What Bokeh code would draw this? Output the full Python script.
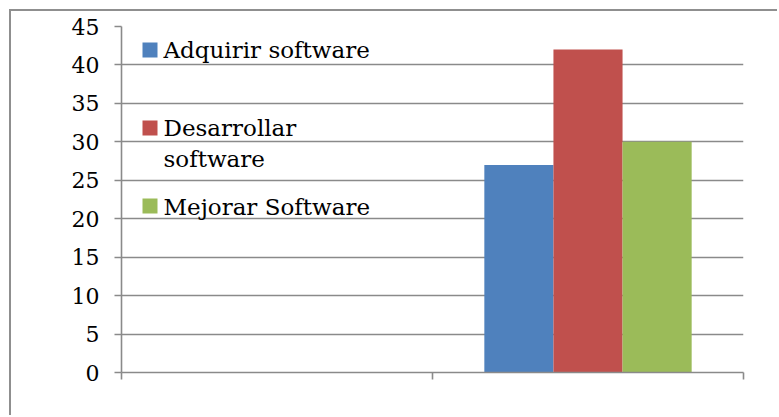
from bokeh.plotting import figure
from bokeh.models import FixedTicker, Range1d
from bokeh.core.properties import value
from bokeh.embed import file_html
from bokeh.resources import INLINE

# ---- data ----
categories = ["", ""]            # category labels (blank in the chart)
series_names = ["Adquirir software", "Desarrollar software", "Mejorar Software"]
adquirir = [0, 27]
desarrollar = [0, 42]
mejorar = [0, 30]
y_ticks = [0, 5, 10, 15, 20, 25, 30, 35, 40, 45]
colors = ["#4F81BD", "#C0504D", "#9BBB59"]

series = [adquirir, desarrollar, mejorar]

FONT = "DejaVu Serif"
GRID = "#8a8a8a"

W, H = 768, 406
p = figure(width=W, height=H, output_backend="svg", toolbar_location=None,
           title=None, x_range=Range1d(0, len(categories)), y_range=Range1d(0, 45),
           min_border_left=110, min_border_right=36, min_border_top=15,
           min_border_bottom=45)
p.styles = {"border-left": "2px solid #8f8f8f", "border-top": "2px solid #8f8f8f",
            "margin-left": "9px", "margin-top": "9px"}
p.outline_line_color = None
p.background_fill_color = "white"
p.border_fill_color = "white"

# bars
n = len(series)
bw = 1.0 / (n + 1.5)
for si, (vals, col) in enumerate(zip(series, colors)):
    xs = [ci + 0.5 + (si - (n - 1) / 2) * bw for ci in range(len(categories))]
    p.vbar(x=xs, top=vals, bottom=0, width=bw, fill_color=col, line_color=None)

# axes
p.xgrid.visible = False
p.ygrid.grid_line_color = GRID
p.ygrid.grid_line_width = 1.6
p.yaxis.ticker = FixedTicker(ticks=y_ticks)
x_ticks = list(range(len(categories) + 1))
p.xaxis.ticker = FixedTicker(ticks=x_ticks)
p.xaxis.major_label_overrides = {t: "" for t in x_ticks}
for ax in (p.xaxis, p.yaxis):
    ax.axis_line_color = GRID
    ax.axis_line_width = 1.6
    ax.major_tick_line_color = GRID
    ax.major_tick_line_width = 1.6
    ax.major_tick_out = 7
    ax.major_tick_in = 0
    ax.minor_tick_line_color = None
p.yaxis.major_label_text_font = FONT
p.yaxis.major_label_text_font_size = "22px"
p.yaxis.major_label_text_color = "black"
p.yaxis.major_label_standoff = 15

# legend drawn manually (page pixel positions converted to data coords)
FL, FR, FT, FB = 121, 743, 26, 372
def px_x(px):
    return (px - FL) / (FR - FL) * len(categories)
def px_y(py):
    return (FB - py) / (FB - FT) * 45

sq_y = [49.5, 127.5, 205.5]
p.scatter(x=[px_x(149.5)] * 3, y=[px_y(v) for v in sq_y], marker="square",
          size=15, fill_color=colors, line_color=None)
lab_lines = [("Adquirir software", 49.5), ("Desarrollar", 127.5), ("software", 158.5),
             ("Mejorar Software", 206)]
p.text(x=[px_x(163)] * len(lab_lines), y=[px_y(b) for _, b in lab_lines],
       text=[t for t, _ in lab_lines], text_font=value(FONT), text_font_size="23px",
       text_color="black", text_baseline="alphabetic", text_align="left")

open("out.html", "w").write(file_html(p, INLINE))
